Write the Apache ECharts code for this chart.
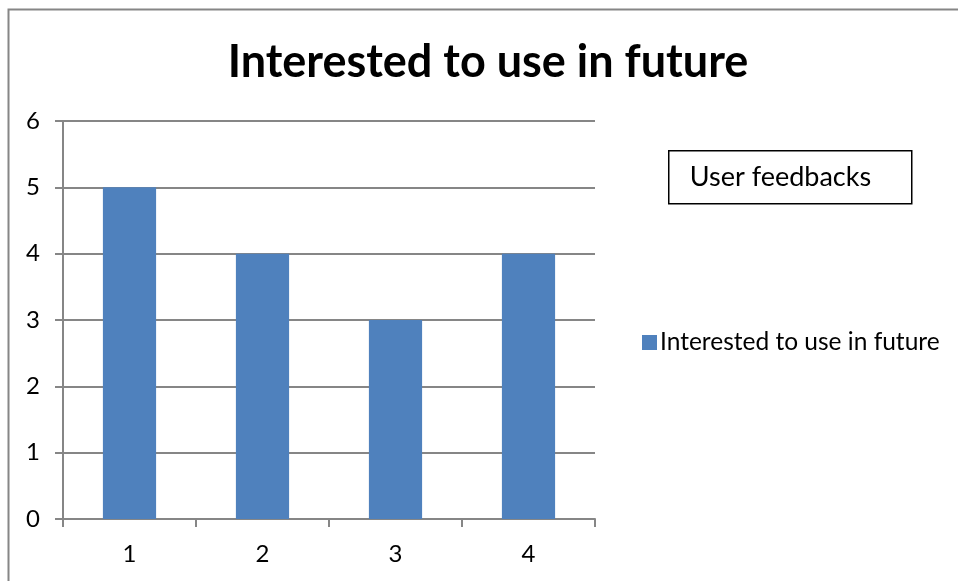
<!DOCTYPE html>
<html>
<head>
<meta charset="utf-8">
<script src="https://cdn.jsdelivr.net/npm/echarts@6/dist/echarts.min.js"></script>
<style>
  html, body { margin: 0; padding: 0; background: #fff; }
  #chart { width: 958px; height: 581px; }
</style>
</head>
<body>
<div id="chart"></div>
<script>
// Survey responses: how many users are interested in using it in future
const categories = ['1', '2', '3', '4'];
const interestedValues = [5, 4, 3, 4];
const yTicks = [0, 1, 2, 3, 4, 5, 6];

const FONT = 'Lato, "Open Sans", sans-serif';
const chart = echarts.init(document.getElementById('chart'));

chart.setOption({
  animation: false,
  backgroundColor: '#ffffff',
  title: {
    text: 'Interested to use in future',
    left: 483,
    top: 35,
    textAlign: 'center',
    textStyle: { fontFamily: FONT, fontSize: 45, fontWeight: 'bold', color: '#000' }
  },
  legend: {
    left: 637,
    top: 325,
    itemWidth: 15,
    itemHeight: 15,
    itemGap: 6,
    icon: 'rect',
    textStyle: { fontFamily: FONT, fontSize: 24.5, color: '#000', padding: [0, 0, 0, -2] },
    data: ['Interested to use in future']
  },
  grid: { left: 63, right: 363, top: 121, bottom: 62 },
  xAxis: {
    type: 'category',
    data: categories,
    axisLine: { lineStyle: { color: '#868686', width: 2 } },
    axisTick: { show: true, length: 8, alignWithLabel: false, lineStyle: { color: '#868686', width: 2 } },
    axisLabel: { fontFamily: FONT, fontSize: 24, color: '#000', margin: 23 }
  },
  yAxis: {
    type: 'value',
    min: 0,
    max: yTicks[yTicks.length - 1],
    interval: 1,
    axisLine: { show: true, lineStyle: { color: '#868686', width: 2 } },
    axisTick: { show: true, length: 8, lineStyle: { color: '#868686', width: 2 } },
    axisLabel: { fontFamily: FONT, fontSize: 24, color: '#000', margin: 23 },
    splitLine: { lineStyle: { color: '#868686', width: 2 } }
  },
  series: [{
    name: 'Interested to use in future',
    type: 'bar',
    data: interestedValues,
    barWidth: '40%',
    itemStyle: { color: '#4f81bd' }
  }],
  graphic: [
    {
      type: 'rect',
      shape: { x: 8.5, y: 9.5, width: 960, height: 600 },
      style: { fill: 'none', stroke: '#868686', lineWidth: 2 },
      silent: true,
      z: -10
    },
    {
      type: 'group',
      left: 668,
      top: 150,
      children: [
        {
          type: 'rect',
          shape: { x: 0, y: 0, width: 243, height: 53 },
          style: { fill: '#fff', stroke: '#000', lineWidth: 1.5 }
        },
        {
          type: 'text',
          x: 21,
          y: 27,
          style: {
            text: 'User feedbacks',
            fontFamily: FONT,
            fontSize: 27,
            fill: '#000',
            verticalAlign: 'middle'
          }
        }
      ]
    }
  ]
});
</script>
</body>
</html>
